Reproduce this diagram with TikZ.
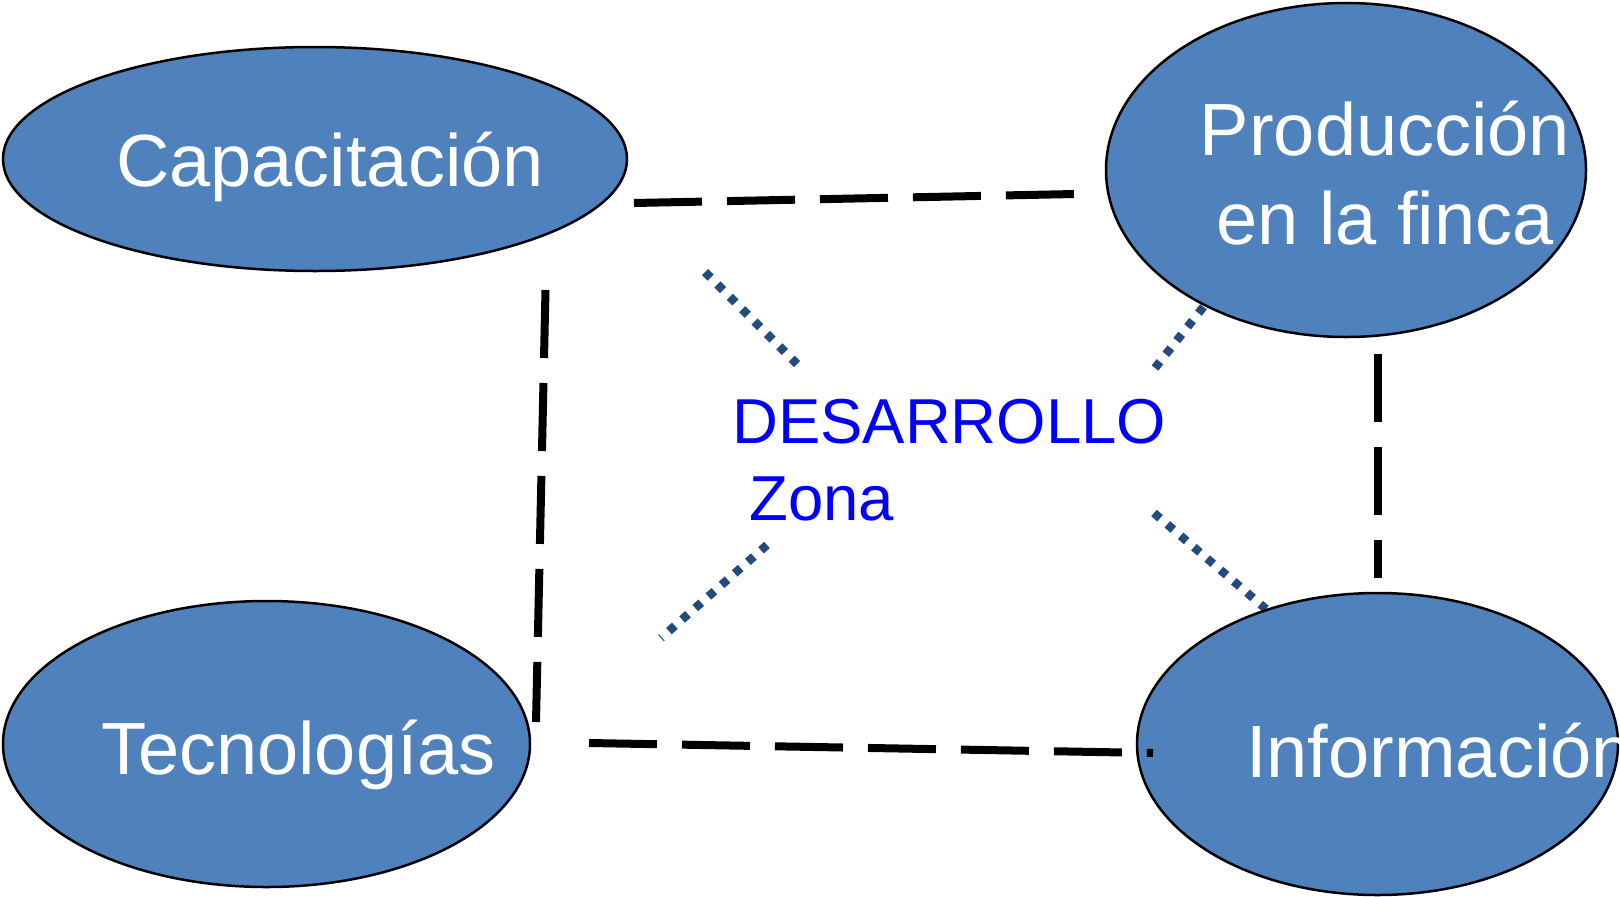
\documentclass[tikz,border=0pt]{standalone}
\usepackage{fontspec}
\setmainfont{Liberation Sans}
\usetikzlibrary{shapes.geometric}
\definecolor{azulnodo}{RGB}{79,129,189}
\definecolor{azulpunto}{RGB}{36,75,125}

\begin{document}
\begin{tikzpicture}[x=1pt, y=-1pt,
	burbuja/.style={ellipse, draw=black, line width=2.5pt, fill=azulnodo, inner sep=0pt},
	texto/.style={text=white, font=\fontsize{74}{89}\selectfont, inner sep=0pt, anchor=base},
	centro/.style={text=blue, font=\fontsize{63.5}{75}\selectfont, inner sep=0pt, anchor=base west},
	enlace/.style={line width=8pt, dash pattern=on 68pt off 25pt},
	radio/.style={azulpunto, line width=8.5pt, dash pattern=on 8pt off 9.5pt}]
	\useasboundingbox (0,0) rectangle (1620,897);

	% lineas punteadas alrededor del centro
	\coordinate (r1a) at (705,272);  \coordinate (r1b) at (797,364);
	\coordinate (r2a) at (1155,368); \coordinate (r2b) at (1212,296);
	\coordinate (r3a) at (767,545);  \coordinate (r3b) at (661,638);
	\coordinate (r4a) at (1154,513); \coordinate (r4b) at (1266,609);
	\draw[radio] (r1a) -- (r1b);
	\draw[radio] (r2a) -- (r2b);
	\draw[radio] (r3a) -- (r3b);
	\draw[radio] (r4a) -- (r4b);

	% las cuatro elipses
	\node[burbuja, minimum width=624pt, minimum height=224pt] (cap) at (315,159) {};
	\node[burbuja, minimum width=480pt, minimum height=334pt] (prod) at (1346,170) {};
	\node[burbuja, minimum width=527pt, minimum height=286pt] (tec) at (266.5,744) {};
	\node[burbuja, minimum width=481pt, minimum height=302pt] (info) at (1377.5,744) {};

	\node[texto] (tcap) at (330,186) {Capacitación};
	\node[texto, align=center] (tprod) at (1385,244) {Producción\\en la finca};
	\node[texto] (ttec) at (298.5,774) {Tecnologías};
	\node[texto, anchor=base west] (tinfo) at (1246,777) {Información};

	\node[centro] (des) at (732,443) {DESARROLLO};
	\node[centro] (zona) at (749,520) {Zona};

	% enlaces discontinuos
	\coordinate (e1a) at (634,203);   \coordinate (e1b) at (1075,194);
	\coordinate (e2a) at (545.5,290); \coordinate (e2b) at (536,722);
	\coordinate (e3a) at (589,743);   \coordinate (e3b) at (1153,753);
	\coordinate (e4a) at (1378,354);  \coordinate (e4b) at (1378,578);
	\draw[enlace] (e1a) -- (e1b);
	\draw[enlace] (e2a) -- (e2b);
	\draw[enlace] (e3a) -- (e3b);
	\draw[enlace] (e4a) -- (e4b);
\end{tikzpicture}
\end{document}
